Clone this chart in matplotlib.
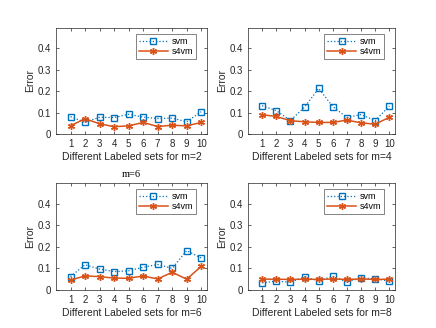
import numpy as np
import matplotlib
matplotlib.use("Agg")
import matplotlib.pyplot as plt

plt.rcParams['font.family'] = ['Liberation Sans', 'DejaVu Sans']

sets = [1, 2, 3, 4, 5, 6, 7, 8, 9, 10]
m_values = [2, 4, 6, 8]

svm_m2 = [0.081, 0.055, 0.078, 0.077, 0.092, 0.079, 0.072, 0.074, 0.057, 0.104]
s4vm_m2 = [0.039, 0.071, 0.048, 0.034, 0.038, 0.054, 0.035, 0.041, 0.038, 0.054]

svm_m4 = [0.132, 0.109, 0.063, 0.125, 0.213, 0.128, 0.077, 0.091, 0.062, 0.131]
s4vm_m4 = [0.090, 0.082, 0.062, 0.057, 0.054, 0.054, 0.065, 0.052, 0.046, 0.078]

svm_m6 = [0.062, 0.117, 0.097, 0.085, 0.089, 0.105, 0.118, 0.100, 0.182, 0.148]
s4vm_m6 = [0.046, 0.065, 0.062, 0.055, 0.054, 0.065, 0.051, 0.082, 0.050, 0.109]

svm_m8 = [0.033, 0.041, 0.036, 0.060, 0.043, 0.063, 0.037, 0.056, 0.052, 0.041]
s4vm_m8 = [0.050, 0.050, 0.049, 0.050, 0.049, 0.051, 0.049, 0.051, 0.049, 0.050]

svm_all = [svm_m2, svm_m4, svm_m6, svm_m8]
s4vm_all = [s4vm_m2, s4vm_m4, s4vm_m6, s4vm_m8]

blue = '#0072BD'
orange = '#D95319'
axcol = '#262626'

fig = plt.figure(figsize=(4.36, 3.28), dpi=100)
W, H = 436., 328.
# axes boxes in pixels: left, top, right, bottom
boxes = [(56, 28, 207, 134), (248, 28, 395, 134),
         (56, 183, 207, 290), (248, 183, 395, 290)]

for k, (l, t, r, b) in enumerate(boxes):
    ax = fig.add_axes([l / W, 1 - b / H, (r - l) / W, (b - t) / H])
    ax.plot(sets, svm_all[k], ':', color=blue, lw=0.9, marker='s', ms=4,
            mfc='none', mec=blue, mew=1.0, label='svm')
    ax.plot(sets, s4vm_all[k], '-', color=orange, lw=1.1, marker=(6, 2, 0), ms=5,
            mec=orange, mfc=orange, mew=1.0, label='s4vm')
    ax.set_xlim(0, 10.4)
    ax.set_ylim(0, 0.495)
    ax.set_xticks(sets)
    ax.set_yticks([0, 0.1, 0.2, 0.3, 0.4])
    ax.set_yticklabels(['0', '0.1', '0.2', '0.3', '0.4'])
    ax.tick_params(direction='in', length=2, width=0.5, labelsize=7,
                   top=True, right=True, colors=axcol, pad=3.5)
    for s in ax.spines.values():
        s.set_linewidth(0.5)
        s.set_color(axcol)
    ax.set_xlabel(f'Different Labeled sets for m={m_values[k]}', fontsize=7.5,
                  color=axcol, labelpad=2.5)
    ax.set_ylabel('Error', fontsize=7.5, color=axcol, labelpad=2)
    leg = ax.legend(loc='upper right', fontsize=6.5, frameon=True, fancybox=False,
                    handlelength=3.2, borderpad=0.3, labelspacing=0.15,
                    handletextpad=0.4, bbox_to_anchor=(0.955, 0.985))
    leg.get_frame().set_edgecolor(axcol)
    leg.get_frame().set_linewidth(0.5)
    if k == 2:
        ax.set_title('m=6', fontsize=7.5, family=['Liberation Serif', 'DejaVu Serif'],
                     pad=4)

fig.savefig('out.png', dpi=100)
